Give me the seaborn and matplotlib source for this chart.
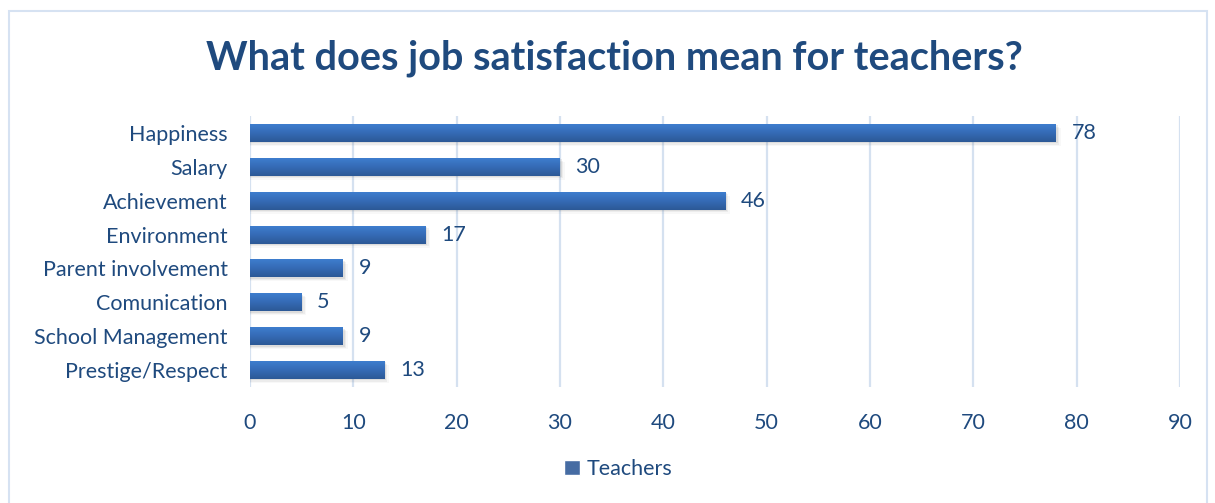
import numpy as np
import pandas as pd
import matplotlib
matplotlib.use("Agg")
import matplotlib.pyplot as plt
from matplotlib.patches import Rectangle
from matplotlib.colors import LinearSegmentedColormap
import seaborn as sns

# === Data ===
categories = ["Happiness", "Salary", "Achievement", "Environment",
              "Parent involvement", "Comunication", "School Management",
              "Prestige/Respect"]
teachers = [78, 30, 46, 17, 9, 5, 9, 13]
series_name = "Teachers"
x_ticks = [0, 10, 20, 30, 40, 50, 60, 70, 80, 90]

df = pd.DataFrame({"category": categories, "value": teachers,
                   "series": [series_name] * len(categories)})

# === Style ===
sns.set_style("white")
plt.rcParams["font.family"] = ["Lato", "DejaVu Sans"]
text_col = "#1F4A7E"
bar_col = "#3769B2"
grid_col = "#D5E1F0"
fs = 15.5

fig = plt.figure(figsize=(12.15, 5.03), dpi=100)
ax = fig.add_axes([0.2058, 0.2306, 0.7654, 0.5388])

sns.barplot(data=df, y="category", x="value", hue="series", orient="h",
            palette=[bar_col], width=0.53, ax=ax, zorder=3)

# gradient fill + soft shadow on each bar
cmap = LinearSegmentedColormap.from_list("bar", ["#3E7ECE", "#356AB5", "#2C5996"])
grad = np.linspace(0, 1, 64).reshape(-1, 1)
xlim, ylim = (0, 90), ax.get_ylim()
for p in list(ax.patches):
    x0, y0, w, h = p.get_x(), p.get_y(), p.get_width(), p.get_height()
    if w <= 0:
        continue
    for k, a in enumerate([0.10, 0.07, 0.04]):
        ax.add_patch(Rectangle((x0, y0 + 0.04 * (k + 1)), w + 0.15 * (k + 1), h,
                               facecolor="#555555", alpha=a, edgecolor="none", zorder=2))
    ax.imshow(grad, extent=(x0, x0 + w, y0 + h, y0), aspect="auto", cmap=cmap,
              zorder=4, interpolation="bicubic")
    p.set_facecolor("none")
    p.set_edgecolor("none")
ax.set_xlim(*xlim)
ax.set_ylim(*ylim)

# data labels
for i, v in enumerate(teachers):
    ax.text(v + 1.5, i, str(v), va="center", ha="left", fontsize=fs, color=text_col, zorder=5)

ax.set_xticks(x_ticks)
ax.grid(axis="x", color=grid_col, linewidth=1.6, zorder=0)
ax.grid(axis="y", visible=False)
sns.despine(ax=ax, left=True, bottom=True)
ax.tick_params(axis="both", length=0, labelsize=fs, labelcolor=text_col)
ax.tick_params(axis="x", pad=19)
ax.tick_params(axis="y", pad=16)
ax.set_xlabel("")
ax.set_ylabel("")

sns.move_legend(ax, "center", bbox_to_anchor=((618 - 250) / 930, -(469 - 387) / 271),
                frameon=False, title=None, handlelength=0.75, handleheight=0.75,
                handletextpad=0.3, fontsize=fs)
leg = ax.get_legend()
for t in leg.get_texts():
    t.set_color(text_col)

fig.text(0.506, 1 - 58 / 503, "What does job satisfaction mean for teachers?",
         ha="center", va="center", fontsize=28.5, fontweight="bold", color=text_col)

# chart border
fig.patches.append(Rectangle((9 / 1215, -0.05), 1198 / 1215, 1 - 11 / 503 + 0.05,
                             transform=fig.transFigure, fill=False,
                             edgecolor="#D6E2F2", linewidth=1.5))

fig.savefig("out.png", dpi=100)
